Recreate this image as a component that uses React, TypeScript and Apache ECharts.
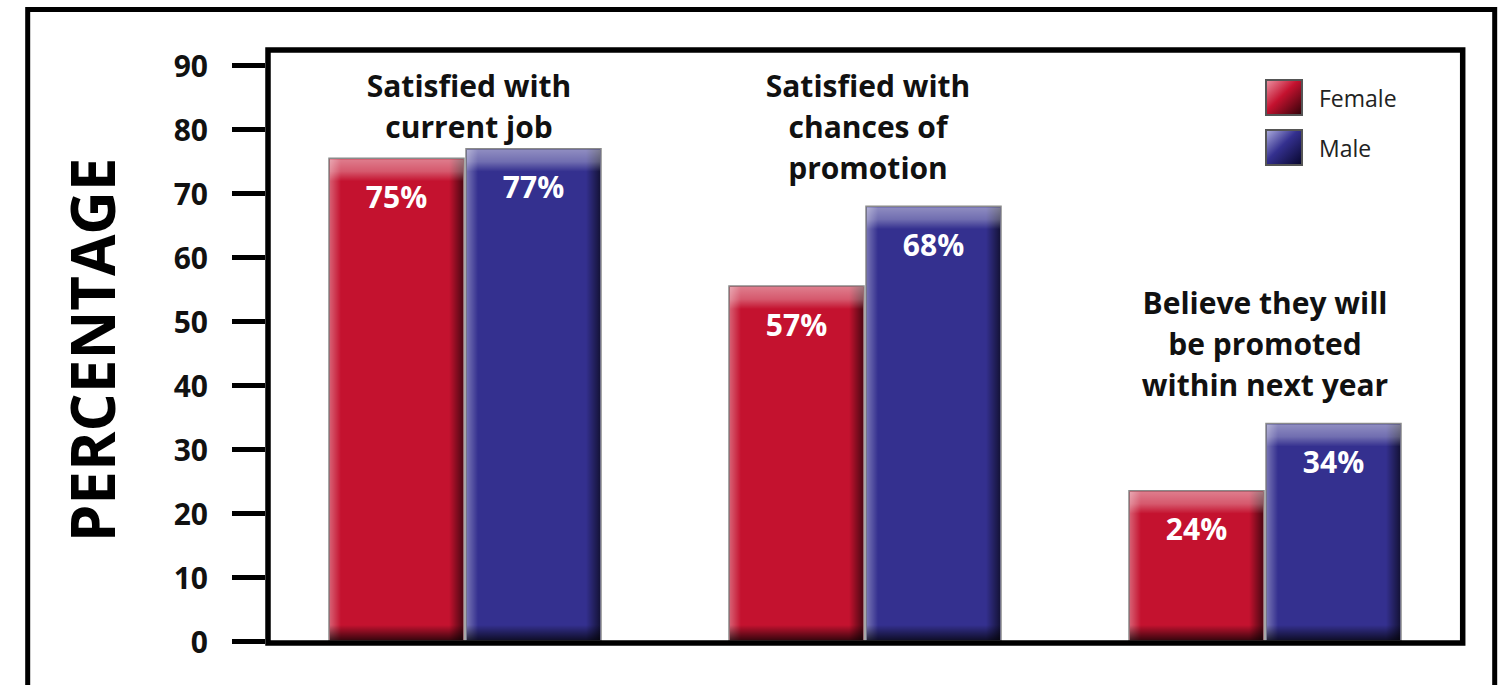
import React, { useEffect, useRef } from "react";
import * as echarts from "echarts";

const categories = [
  "Satisfied with current job",
  "Satisfied with chances of promotion",
  "Believe they will be promoted within next year",
];
const annotationTexts = [
  "Satisfied with\ncurrent job",
  "Satisfied with\nchances of\npromotion",
  "Believe they will\nbe promoted\nwithin next year",
];
const seriesNames = ["Female", "Male"];
const femaleValues = [75.5, 55.5, 23.5];
const maleValues = [77, 68, 34];
const femaleLabels = ["75%", "57%", "24%"];
const maleLabels = ["77%", "68%", "34%"];
const yMin = 0;
const yMax = 90;
const yStep = 10;

const FONT = "'Open Sans', 'Noto Sans', sans-serif";
const RED = "#c4122f";
const BLUE = "#34308f";

const lg = (x2: number, y2: number, stops: [number, string][]) =>
  new echarts.graphic.LinearGradient(0, 0, x2, y2, stops.map(([offset, color]) => ({ offset, color })));

function makeRender(side: number, base: string, labels: string[]) {
  return (params: any, api: any) => {
    const cat = api.value(0);
    const val = api.value(1);
    const p0 = api.coord([cat, 0]);
    const p1 = api.coord([cat, val]);
    const band = api.size([1, 0])[0];
    const bw = band * 0.3375;
    const gap = band * 0.005;
    const x = side < 0 ? p0[0] - gap / 2 - bw : p0[0] + gap / 2;
    const top = p1[1];
    const h = p0[1] - p1[1];
    const cx = x + bw / 2;
    return {
      type: "group",
      children: [
        { type: "rect", shape: { x, y: top, width: bw, height: h }, style: { fill: base, stroke: "#8a8a8a", lineWidth: 1.5 } },
        {
          type: "rect",
          shape: { x: x + 1, y: top + 1, width: 11, height: h - 2 },
          style: { fill: lg(1, 0, [[0, "rgba(255,255,255,0.32)"], [1, "rgba(255,255,255,0)"]]) },
        },
        {
          type: "rect",
          shape: { x: x + bw - 15, y: top + 1, width: 14, height: h - 2 },
          style: { fill: lg(1, 0, [[0, "rgba(0,0,0,0)"], [1, "rgba(0,0,0,0.6)"]]) },
        },
        {
          type: "rect",
          shape: { x: x + 1, y: top + 1, width: bw - 2, height: Math.min(22, h) },
          style: {
            fill: lg(0, 1, [[0, "rgba(255,255,255,0.45)"], [0.55, "rgba(255,255,255,0.3)"], [1, "rgba(255,255,255,0)"]]),
          },
        },
        {
          type: "rect",
          shape: { x: x + 1, y: p0[1] - 16, width: bw - 2, height: 15 },
          style: { fill: lg(0, 1, [[0, "rgba(0,0,0,0)"], [1, "rgba(0,0,0,0.7)"]]) },
        },
        {
          type: "text",
          x: cx,
          y: top + 38,
          style: {
            text: labels[params.dataIndex],
            fill: "#ffffff",
            font: `bold 30px ${FONT}`,
            align: "center",
            verticalAlign: "middle",
          },
        },
      ],
    };
  };
}

export default function App() {
  const ref = useRef<HTMLDivElement>(null);
  useEffect(() => {
    const chart = echarts.init(ref.current!, null, { renderer: "svg" });
    const annX = [469, 868, 1265];
    const annY = [64.5, 64.5, 281.5];
    chart.setOption({
      animation: false,
      backgroundColor: "#ffffff",
      grid: { left: 265, right: 42, top: 65.5, bottom: 44, containLabel: false },
      xAxis: {
        type: "category",
        data: categories,
        axisLine: { show: false },
        axisTick: { show: false },
        axisLabel: { show: false },
        splitLine: { show: false },
      },
      yAxis: {
        type: "value",
        min: yMin,
        max: yMax,
        interval: yStep,
        axisLine: { show: false },
        axisTick: { show: true, length: 33, lineStyle: { color: "#000", width: 5 } },
        axisLabel: { margin: 57, color: "#111", fontSize: 30, fontWeight: "bold", fontFamily: FONT },
        splitLine: { show: false },
      },
      legend: {
        orient: "vertical",
        left: 1265,
        top: 79,
        padding: 0,
        itemWidth: 36,
        itemHeight: 35,
        itemGap: 13,
        icon: "rect",
        selectedMode: false,
        textStyle: { fontSize: 23, color: "#222", fontFamily: FONT, padding: [0, 0, 0, 12] },
        data: [
          {
            name: seriesNames[0],
            itemStyle: {
              color: lg(1, 1, [[0, "#ec95a5"], [0.45, "#c4122f"], [1, "#2e0208"]]),
              borderColor: "#555",
              borderWidth: 2,
            },
          },
          {
            name: seriesNames[1],
            itemStyle: {
              color: lg(1, 1, [[0, "#b0b0e0"], [0.45, "#34308f"], [1, "#06052a"]]),
              borderColor: "#555",
              borderWidth: 2,
            },
          },
        ],
      },
      series: [
        {
          name: seriesNames[0],
          type: "custom",
          itemStyle: { color: RED },
          renderItem: makeRender(-1, RED, femaleLabels),
          encode: { x: 0, y: 1 },
          data: femaleValues.map((v, i) => [i, v]),
        },
        {
          name: seriesNames[1],
          type: "custom",
          itemStyle: { color: BLUE },
          renderItem: makeRender(1, BLUE, maleLabels),
          encode: { x: 0, y: 1 },
          data: maleValues.map((v, i) => [i, v]),
        },
      ],
      graphic: [
        {
          type: "rect",
          shape: { x: 27.7, y: 9.5, width: 1467, height: 700 },
          style: { fill: "none", stroke: "#000", lineWidth: 5 },
          z: 10,
        },
        {
          type: "rect",
          shape: { x: 268, y: 50, width: 1194.7, height: 593 },
          style: { fill: "none", stroke: "#000", lineWidth: 5.5 },
          z: 10,
        },
        {
          type: "text",
          x: 92,
          y: 350,
          rotation: Math.PI / 2,
          style: {
            text: "PERCENTAGE",
            fill: "#000",
            font: `bold 60px ${FONT}`,
            align: "center",
            verticalAlign: "middle",
          },
        },
        ...annotationTexts.map((t, i) => ({
          type: "text",
          x: annX[i],
          y: annY[i],
          style: {
            text: t,
            fill: "#111",
            font: `bold 30px ${FONT}`,
            lineHeight: 41,
            align: "center",
            verticalAlign: "top",
          },
        })),
      ],
    });
    return () => chart.dispose();
  }, []);
  return <div ref={ref} style={{ position: "fixed", left: 0, top: 0, width: 1507, height: 685 }} />;
}
